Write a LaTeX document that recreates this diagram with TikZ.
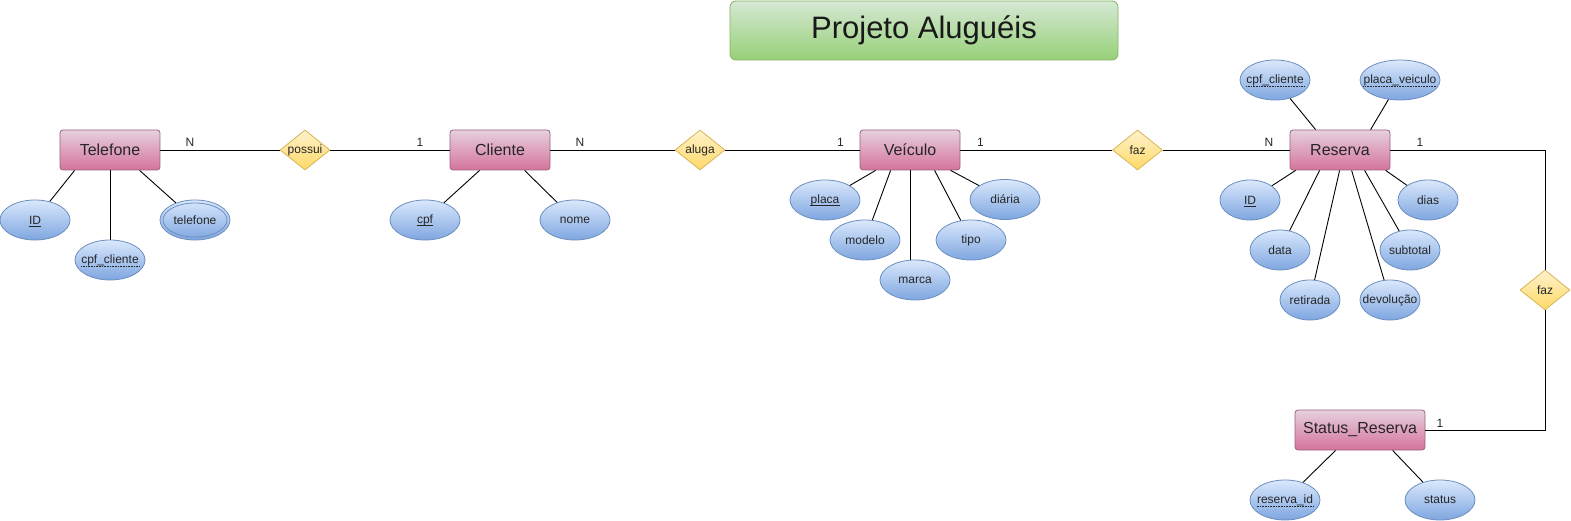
\documentclass[tikz,border=0pt]{standalone}
\usepackage{fontspec}
\setmainfont{Liberation Sans}
\usetikzlibrary{shapes.geometric,calc}
\definecolor{entTop}{HTML}{E6D0DE}
\definecolor{entBot}{HTML}{D5739D}
\definecolor{entLine}{HTML}{996185}
\definecolor{attTop}{HTML}{DAE8FC}
\definecolor{attBot}{HTML}{7EA6E0}
\definecolor{attLine}{HTML}{6C8EBF}
\definecolor{relTop}{HTML}{FFF2CC}
\definecolor{relBot}{HTML}{FFD966}
\definecolor{relLine}{HTML}{D6B656}
\definecolor{titTop}{HTML}{D5E8D4}
\definecolor{titBot}{HTML}{97D077}
\definecolor{titLine}{HTML}{82B366}
\newcommand\attxt[1]{\makebox[0pt]{#1}}
\tikzset{
  entity/.style={rectangle, rounded corners=3bp, draw=entLine, top color=entTop, bottom color=entBot,
    minimum width=100bp, minimum height=40bp, inner sep=0pt, line width=0.8bp,
    font=\fontsize{16bp}{19bp}\selectfont, text=black!85},
  attr/.style={ellipse, draw=attLine, top color=attTop, bottom color=attBot,
    minimum width=70bp, minimum height=40bp, inner sep=0pt, line width=0.8bp,
    font=\fontsize{12bp}{14bp}\selectfont, text=black!85},
  rel/.style={diamond, draw=relLine, top color=relTop, bottom color=relBot,
    minimum width=50bp, minimum height=40bp, inner sep=0pt, line width=0.8bp,
    font=\fontsize{12bp}{14bp}\selectfont, text=black!85},
  card/.style={inner sep=0pt, font=\fontsize{12bp}{14bp}\selectfont, text=black!85},
  atext/.style={inner sep=0pt, font=\fontsize{12bp}{14bp}\selectfont, text=black!85},
  conn/.style={draw=black, line width=0.9bp},
  uline/.style={draw=black!85, line width=0.8bp},
  dline/.style={draw=black!85, line width=0.8bp, dash pattern=on 0.8bp off 0.8bp},
}
\begin{document}
\begin{tikzpicture}[x=1bp,y=-1bp]
\useasboundingbox (0,0) rectangle (1571,521);
% title
\node[rectangle, rounded corners=6bp, draw=titLine, top color=titTop, bottom color=titBot,
  minimum width=388bp, minimum height=59bp, inner sep=0pt, line width=0.8bp,
  font=\fontsize{31bp}{36bp}\selectfont, text=black!90] (title) at (924,30.5) {Projeto Aluguéis};

% entities
\node[entity] (tel) at (110,150) {Telefone};
\node[entity] (cli) at (500,150) {Cliente};
\node[entity] (vei) at (910,150) {Veículo};
\node[entity] (res) at (1340,150) {Reserva};
\node[entity, minimum width=130bp] (sta) at (1360,430) {Status\_Reserva};

% relationships
\node[rel] (pos) at (305,150) {\attxt{possui}};
\node[rel] (alu) at (700,150) {\attxt{aluga}};
\node[rel] (faz1) at (1137.5,150) {\attxt{faz}};
\node[rel] (faz2) at (1545,290) {\attxt{faz}};

% relationship connectors
\draw[conn] (tel) -- (pos);
\draw[conn] (pos) -- (cli);
\draw[conn] (cli) -- (alu);
\draw[conn] (alu) -- (vei);
\draw[conn] (vei) -- (faz1);
\draw[conn] (faz1) -- (res);
\draw[conn] (res.east) -| (faz2.north);
\draw[conn] (faz2.south) |- (sta.east);

% cardinalities
\node[card] (c1) at (190,142) {N};
\node[card] (c2) at (420,142) {1};
\node[card] (c3) at (580,142) {N};
\node[card] (c4) at (840.5,142) {1};
\node[card] (c5) at (980.5,142) {1};
\node[card] (c6) at (1269,142) {N};
\node[card] (c7) at (1420,142) {1};
\node[card] (c8) at (1440,423) {1};

% Telefone attributes
\node[attr] (tid) at (35,220) {};
\node[atext] (tidt) at (tid) {ID};
\draw[uline] ($(tidt.base west)+(0,2)$) -- ($(tidt.base east)+(0,2)$);
\node[attr] (tcpf) at (110,260) {};
\node[atext] (tcpft) at (tcpf) {cpf\_cliente};
\draw[dline] ($(tcpft.base west)+(0,3)$) -- ($(tcpft.base east)+(0,3)$);
\node[attr] (tfone) at (195,220) {\attxt{telefone}};
\draw[attLine, line width=0.8bp] (tfone.center) ellipse [x radius=32bp, y radius=17bp];
\draw[conn] ($(tel.south west)+(15,0)$) -- (tid);
\draw[conn] (tel.south) -- (tcpf.north);
\draw[conn] ($(tel.south west)+(80,0)$) -- (tfone);

% Cliente attributes
\node[attr] (ccpf) at (425,220) {};
\node[atext] (ccpft) at (ccpf) {cpf};
\draw[uline] ($(ccpft.base west)+(0,2)$) -- ($(ccpft.base east)+(0,2)$);
\node[attr] (cnome) at (575,220) {\attxt{nome}};
\draw[conn] ($(cli.south west)+(30,0)$) -- (ccpf);
\draw[conn] ($(cli.south west)+(75,0)$) -- (cnome);

% Veiculo attributes
\node[attr] (vpla) at (825,200) {};
\node[atext] (vplat) at (vpla) {placa};
\draw[uline] ($(vplat.base west)+(0,2)$) -- ($(vplat.base east)+(0,2)$);
\node[attr] (vmod) at (865,240) {\attxt{modelo}};
\node[attr] (vmar) at (915,280) {\attxt{marca}};
\node[attr] (vtip) at (971,240) {\attxt{tipo}};
\node[attr] (vdia) at (1005,199.5) {\attxt{diária}};
\draw[conn] ($(vei.south west)+(16,0)$) -- (vpla);
\draw[conn] ($(vei.south west)+(31,0)$) -- (vmod);
\draw[conn] (vei.south) -- (vei.south |- vmar.north);
\draw[conn] ($(vei.south west)+(75,0)$) -- (vtip);
\draw[conn] ($(vei.south west)+(91,0)$) -- (vdia);

% Reserva attributes
\node[attr] (rcpf) at (1275,80) {};
\node[atext] (rcpft) at (rcpf) {cpf\_cliente};
\draw[dline] ($(rcpft.base west)+(0,3)$) -- ($(rcpft.base east)+(0,3)$);
\node[attr, minimum width=80bp] (rpla) at (1400,80) {};
\node[atext] (rplat) at (rpla) {placa\_veiculo};
\draw[dline] ($(rplat.base west)+(0,3)$) -- ($(rplat.base east)+(0,3)$);
\node[attr, minimum width=60bp] (rid) at (1250,200) {};
\node[atext] (ridt) at (rid) {ID};
\draw[uline] ($(ridt.base west)+(0,2)$) -- ($(ridt.base east)+(0,2)$);
\node[attr, minimum width=60bp] (rdat) at (1280,250) {\attxt{data}};
\node[attr, minimum width=60bp] (rret) at (1310,300) {\attxt{retirada}};
\node[attr, minimum width=60bp] (rdev) at (1390,300) {\attxt{devolução}};
\node[attr, minimum width=60bp] (rsub) at (1410,250) {\attxt{subtotal}};
\node[attr, minimum width=60bp] (rdia) at (1428,200) {\attxt{dias}};
\draw[conn] ($(res.north west)+(26,0)$) -- (rcpf);
\draw[conn] ($(res.north west)+(81,0)$) -- (rpla);
\draw[conn] ($(res.south west)+(6,0)$) -- (rid);
\draw[conn] ($(res.south west)+(30,0)$) -- (rdat);
\draw[conn] ($(res.south west)+(50,0)$) -- (rret);
\draw[conn] ($(res.south west)+(62,0)$) -- (rdev);
\draw[conn] ($(res.south west)+(75,0)$) -- (rsub);
\draw[conn] ($(res.south west)+(96,0)$) -- (rdia);

% Status_Reserva attributes
\node[attr] (srid) at (1285,500) {};
\node[atext] (sridt) at (srid) {reserva\_id};
\draw[dline] ($(sridt.base west)+(0,3)$) -- ($(sridt.base east)+(0,3)$);
\node[attr] (sst) at (1440,500) {\attxt{status}};
\draw[conn] ($(sta.south west)+(41,0)$) -- (srid);
\draw[conn] ($(sta.south west)+(98,0)$) -- (sst);
\end{tikzpicture}
\end{document}
